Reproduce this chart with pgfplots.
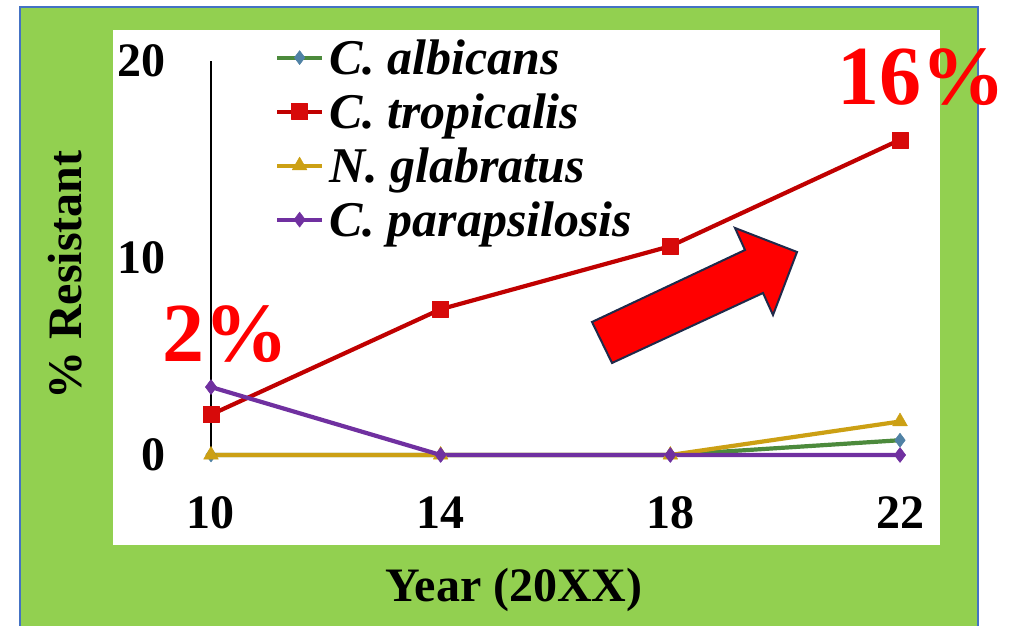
\documentclass[border=0pt]{standalone}
\usepackage{fontspec}
\setmainfont{Liberation Serif}
\usepackage{pgfplots}
\pgfplotsset{compat=1.18}
\definecolor{bgGreen}{RGB}{146,208,80}
\definecolor{frameBlue}{RGB}{68,114,196}
\definecolor{cAlb}{RGB}{76,138,60}
\definecolor{cAlbM}{RGB}{80,130,165}
\definecolor{cTrop}{RGB}{192,0,0}
\definecolor{cTropM}{RGB}{215,10,10}
\definecolor{cGlab}{RGB}{204,160,20}
\definecolor{cPara}{RGB}{112,48,160}
\definecolor{arrowEdge}{RGB}{31,42,74}
\begin{document}
\begin{tikzpicture}[x=1pt,y=1pt]
\useasboundingbox (0,0) rectangle (1012,626);
\begin{scope}
\clip (0,0) rectangle (1012,626);
\fill[white] (0,0) rectangle (1012,626);
\filldraw[fill=bgGreen, draw=frameBlue, line width=2pt] (20,-10) rectangle (978,619);
\fill[white] (113,81) rectangle (940,596);
\end{scope}
\begin{axis}[
  at={(211pt,171pt)}, anchor=south west,
  scale only axis, width=689pt, height=394pt,
  xmin=10, xmax=22, ymin=0, ymax=20,
  clip=false,
  axis x line*=bottom, axis y line*=left,
  x axis line style={draw=none},
  y axis line style={draw=black, line width=1.3pt, -},
  xtick={10,14,18,22}, ytick={0,10,20},
  major tick length=0pt, tick style={draw=none},
  /pgf/number format/assume math mode=true,
  ticklabel style={font=\fontsize{48}{56}\selectfont\bfseries},
  xticklabel style={anchor=center, inner sep=0pt, yshift=-58pt},
  yticklabel style={anchor=east, inner sep=0pt, xshift=-45pt},
  xlabel={Year (20XX)}, ylabel={\% Resistant},
  label style={font=\fontsize{48}{56}\selectfont\bfseries},
  xlabel style={at={(axis description cs:0.4398,-0.3426)}, anchor=center, inner sep=0pt},
  ylabel style={at={(axis description cs:-0.2119,0.4569)}, anchor=center, inner sep=0pt},
  legend style={at={(axis cs:11.1147,21.44)}, anchor=north west, draw=none, fill=none,
    inner sep=0pt, outer sep=0pt, row sep=4pt, column sep=5pt,
    font=\fontsize{50}{60}\selectfont\bfseries\itshape,
    nodes={inner sep=0pt, text height=41.5pt, text depth=8.5pt}},
  legend cell align=left,
  legend image code/.code={\draw[mark repeat=2, mark phase=2, #1] plot coordinates {(0pt,0pt) (22.5pt,0pt) (45pt,0pt)};},
  every axis plot/.append style={line width=4.2pt, line join=round},
]
\addplot[color=cAlb, mark=diamond*, mark size=7pt, mark options={fill=cAlbM, draw=cAlbM, line width=0.5pt}] coordinates {(10,0)(14,0)(18,0)(22,0.75)};
\addplot[color=cTrop, mark=square*, mark size=8pt, mark options={fill=cTropM, draw=cTropM, line width=0.5pt}] coordinates {(10,2.05)(14,7.4)(18,10.6)(22,16)};
\addplot[color=cGlab, mark=triangle*, mark size=8.5pt, mark options={fill=cGlab, draw=cGlab, line width=0.5pt}] coordinates {(10,0)(14,0)(18,0)(22,1.7)};
\addplot[color=cPara, mark=diamond*, mark size=7.5pt, mark options={fill=cPara, draw=cPara, line width=0.5pt}] coordinates {(10,3.45)(14,0)(18,0)(22,0)};
\legend{C. albicans, C. tropicalis, N. glabratus, C. parapsilosis}
\end{axis}
\filldraw[fill=red, draw=arrowEdge, line width=2pt, line join=miter]
  (612,263) -- (592,304) -- (745,376) -- (735,398) -- (797,374) -- (773,311) -- (763,333) -- cycle;
\node[text=red, font=\fontsize{84}{90}\selectfont\bfseries, inner sep=0pt] at (921,549) {16\%};
\node[text=red, font=\fontsize{84}{90}\selectfont\bfseries, inner sep=0pt] at (225,292) {2\%};
\end{tikzpicture}
\end{document}
